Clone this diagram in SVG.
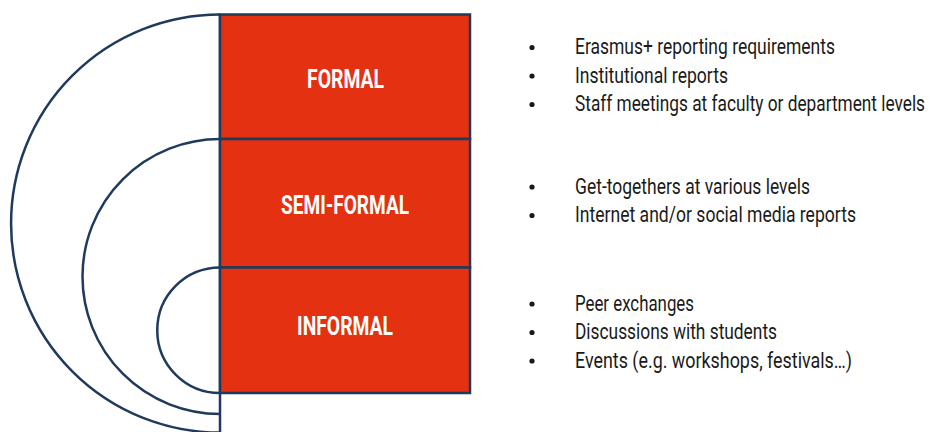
<svg xmlns="http://www.w3.org/2000/svg" width="932" height="432" viewBox="0 0 932 432">
<style>
.ln{fill:none;stroke:#1f3a5c;stroke-width:2.5}
.box{fill:#e33112;stroke:#1f3a5c;stroke-width:2.5}
.lbl{font-family:"Liberation Sans Narrow","Roboto","Liberation Sans",sans-serif;font-weight:bold;font-size:26px;fill:#ffffff;text-anchor:middle}
.it{font-family:"Liberation Sans Narrow","Roboto","Liberation Sans",sans-serif;font-size:22px;fill:#1a1a1a}
.dot{fill:#1a1a1a}
</style>
<rect width="932" height="432" fill="#ffffff"/>
<g id="arcs">
<path class="ln" d="M220,14.5 A209,209 0 0 0 220,432.5"/>
<path class="ln" d="M220,139 A137.5,137.5 0 0 0 220,414"/>
<path class="ln" d="M220,267.5 A62.75,62.75 0 0 0 220,393"/>
<line class="ln" x1="220" y1="14.5" x2="220" y2="432"/>
</g>
<g id="formal">
<rect class="box" x="220" y="14.5" width="250" height="124.5"/>
<text class="lbl" x="345.5" y="88" textLength="77" lengthAdjust="spacingAndGlyphs">FORMAL</text>
</g>
<g id="semi-formal">
<rect class="box" x="220" y="139" width="250" height="128.5"/>
<text class="lbl" x="345" y="214" textLength="128" lengthAdjust="spacingAndGlyphs">SEMI-FORMAL</text>
</g>
<g id="informal">
<rect class="box" x="220" y="267.5" width="250" height="125.5"/>
<text class="lbl" x="345" y="335" textLength="96" lengthAdjust="spacingAndGlyphs">INFORMAL</text>
</g>
<g id="formal-items">
<circle class="dot" cx="532" cy="47.5" r="2.6"/>
<circle class="dot" cx="532" cy="76" r="2.6"/>
<circle class="dot" cx="532" cy="104.5" r="2.6"/>
<text class="it" x="575" y="54" textLength="260" lengthAdjust="spacingAndGlyphs">Erasmus+ reporting requirements</text>
<text class="it" x="575" y="82.5" textLength="153" lengthAdjust="spacingAndGlyphs">Institutional reports</text>
<text class="it" x="575" y="111" textLength="350" lengthAdjust="spacingAndGlyphs">Staff meetings at faculty or department levels</text>
</g>
<g id="semi-formal-items">
<circle class="dot" cx="532" cy="187" r="2.6"/>
<circle class="dot" cx="532" cy="215.5" r="2.6"/>
<text class="it" x="575" y="193.5" textLength="235" lengthAdjust="spacingAndGlyphs">Get-togethers at various levels</text>
<text class="it" x="575" y="222" textLength="281" lengthAdjust="spacingAndGlyphs">Internet and/or social media reports</text>
</g>
<g id="informal-items">
<circle class="dot" cx="532" cy="304" r="2.6"/>
<circle class="dot" cx="532" cy="332.5" r="2.6"/>
<circle class="dot" cx="532" cy="361" r="2.6"/>
<text class="it" x="575" y="310.5" textLength="119" lengthAdjust="spacingAndGlyphs">Peer exchanges</text>
<text class="it" x="575" y="339" textLength="202" lengthAdjust="spacingAndGlyphs">Discussions with students</text>
<text class="it" x="575" y="367.5" textLength="277" lengthAdjust="spacingAndGlyphs">Events (e.g. workshops, festivals…)</text>
</g>
</svg>
